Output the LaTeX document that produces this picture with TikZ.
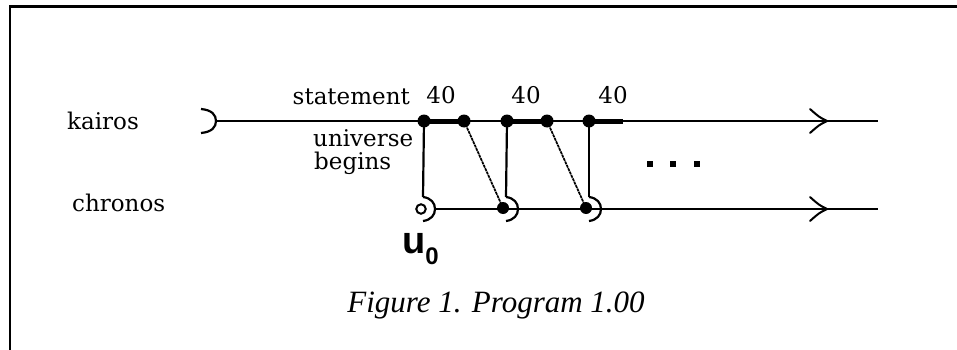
\documentclass[tikz,border=0pt]{standalone}
\usepackage{fontspec}
\setmainfont{DejaVu Serif}
\newfontfamily\capfont{Liberation Serif}
\newfontfamily\ufont{Liberation Sans}
\begin{document}
\begin{tikzpicture}[x=1pt,y=-1pt,
  lbl/.style={font=\fontsize{23}{23}\selectfont, inner sep=0pt},
  kdot/.style={circle, fill=black, inner sep=0pt, minimum size=13pt},
  cdot/.style={circle, fill=black, inner sep=0pt, minimum size=12pt},
  odot/.style={circle, draw=black, line width=2pt, fill=white, inner sep=0pt, minimum size=9.5pt},
  axisline/.style={line width=2.2pt},
  heavy/.style={line width=5pt},
  diag/.style={line width=1.7pt, dash pattern=on 3pt off 0.7pt},
  brk/.style={line width=2.2pt},
  edot/.style={fill=black, minimum size=6.5pt, inner sep=0pt, rectangle},
  chev/.pic={\draw[line width=2pt, line cap=round]
      (-17,-12) .. controls (-8,-4) .. (0,0) .. controls (-8,4) .. (-17,12);}
]
\useasboundingbox (0,0) rectangle (957,350);
% frame
\draw[line width=2.6pt] (10,351) -- (10,6.5) -- (958,6.5);

% labels
\node[lbl, anchor=base west] (kai) at (67,129) {kairos};
\node[lbl, anchor=base west] (chr) at (72,211) {chronos};
\node[lbl, anchor=base east] (stm) at (410,104) {statement};
\node[lbl, anchor=base] (f1) at (441,103) {40};
\node[lbl, anchor=base] (f2) at (526,103) {40};
\node[lbl, anchor=base] (f3) at (613,103) {40};
\node[lbl, anchor=base west] (ub1) at (313,146) {universe};
\node[lbl, anchor=base west] (ub2) at (314,169) {begins};

% kairos axis
\coordinate (kstart) at (215,121);
\coordinate (kend) at (878,121);
\draw[brk] (201,109) .. controls (212,110) and (216,115) .. (216,121)
  .. controls (216,127) and (212,132) .. (201,133);
\draw[axisline] (kstart) -- (kend);
\pic at (827,121) {chev};

% kairos dots
\node[kdot] (k1) at (424,121) {};
\node[kdot] (k2) at (464,121) {};
\node[kdot] (k3) at (507,121) {};
\node[kdot] (k4) at (547,121) {};
\node[kdot] (k5) at (589,121) {};
\coordinate (k6) at (623,121);
\draw[heavy] (k1.center) -- (k2.center);
\draw[heavy] (k3.center) -- (k4.center);
\draw[heavy] (k5.center) -- (k6);

% chronos axis
\node[odot] (c0) at (421,209) {};
\node[cdot] (c1) at (503,208) {};
\node[cdot] (c2) at (586,208) {};
\coordinate (cstart) at (434,209);
\coordinate (cend) at (878,209);
\draw[axisline] (cstart) -- (cend);
\pic at (827,209) {chev};

% brackets round chronos nodes and their tops
\coordinate (b0) at (423,197);
\coordinate (b1) at (506,197);
\coordinate (b2) at (589,197);
\draw[brk] (b0) .. controls (431,198) and (435,203) .. (435,209)
  .. controls (435,215) and (431,220) .. (423,221);
\draw[brk] (b1) .. controls (514,198) and (518,203) .. (518,209)
  .. controls (518,215) and (514,220) .. (506,221);
\draw[brk] (b2) .. controls (597,198) and (601,203) .. (601,209)
  .. controls (601,215) and (597,220) .. (589,221);

% verticals
\draw[axisline] (k1.center) -- (b0);
\draw[axisline] (k3.center) -- (b1);
\draw[axisline] (k5.center) -- (b2);

% diagonals
\draw[diag] (k2.center) -- (c1.center);
\draw[diag] (k4.center) -- (c2.center);

% ellipsis
\node[edot] (e1) at (650,164) {};
\node[edot] (e2) at (673,164) {};
\node[edot] (e3) at (697,164) {};

% u0
\node[anchor=base west, inner sep=0pt] (u0) at (402,253)
  {\ufont\bfseries\fontsize{38}{38}\selectfont u\raisebox{-11pt}{\fontsize{24}{24}\selectfont 0}};

% caption
\node[anchor=base, inner sep=0pt] (cap) at (496,312)
  {\capfont\itshape\fontsize{31}{31}\selectfont Figure 1. Program 1.00};
\end{tikzpicture}
\end{document}
